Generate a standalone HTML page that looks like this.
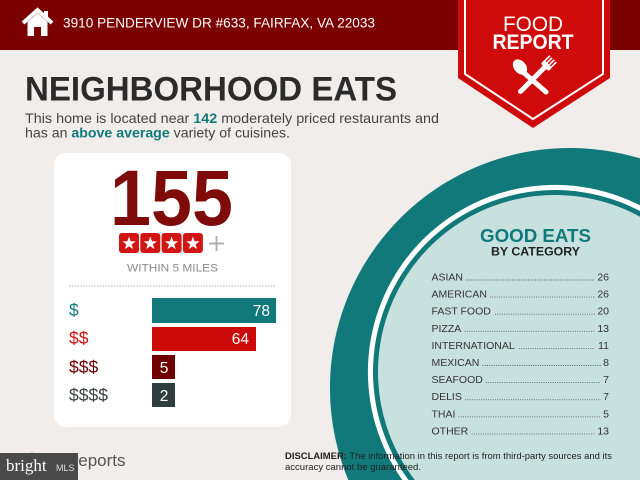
<!DOCTYPE html>
<html><head><meta charset="utf-8"><style>
html,body{margin:0;padding:0;width:640px;height:480px;overflow:hidden;background:#f0edea;}
svg{display:block;overflow:hidden;font-family:"Liberation Sans",Arial,sans-serif;}
</style></head><body>
<svg width="640" height="480" viewBox="0 0 640 480" xmlns="http://www.w3.org/2000/svg">
<rect x="0" y="0" width="640" height="480" fill="#f0edea"/>
<!-- circle (clipped to frame) -->
<path d="M348.3,480 A240,240 0 0,1 640,158.4 L640,480 Z" fill="#12797b"/>
<path d="M402.3,480 A187,187 0 0,1 640,205.4 L640,480 Z" fill="#ffffff"/>
<path d="M408.5,480 A182,182 0 0,1 640,211.1 L640,480 Z" fill="#12797b"/>
<path d="M414.8,480 A177,177 0 0,1 640,216.7 L640,480 Z" fill="#c7e1df"/>
<!-- header -->
<rect x="0" y="0" width="640" height="50" fill="#7b0000"/>
<path d="M23 23 L37.5 10 L52 23" stroke="#fff" stroke-width="4" fill="none"/>
<path d="M27.5 22 L37.5 13 L47.5 22 V36 H41 V27 H34 V36 H27.5 Z" fill="#fff"/>
<rect x="44" y="11" width="4" height="8" fill="#fff"/>
<text x="63" y="27.5" font-size="13.5" fill="#fff" textLength="312" lengthAdjust="spacingAndGlyphs">3910 PENDERVIEW DR #633, FAIRFAX, VA 22033</text>
<!-- banner -->
<polygon points="458,0 610,0 610,78 533,128 458,78" fill="#cf0a0a"/>
<polyline points="465,0 465,74 533,119 603,74 603,0" fill="none" stroke="#fff" stroke-width="2"/>
<text x="533" y="31" font-size="21" fill="#fff" text-anchor="middle" textLength="60" lengthAdjust="spacingAndGlyphs">FOOD</text>
<text x="533" y="49" font-size="21" font-weight="bold" fill="#fff" text-anchor="middle" textLength="81" lengthAdjust="spacingAndGlyphs">REPORT</text>
<!-- spoon -->
<ellipse cx="520" cy="67" rx="6" ry="8.5" fill="#fff" transform="rotate(-40 520 67)"/>
<line x1="523" y1="72" x2="546" y2="92" stroke="#fff" stroke-width="5" stroke-linecap="round"/>
<!-- fork -->
<g transform="translate(546,66) rotate(45)">
<line x1="0" y1="2" x2="0" y2="36" stroke="#fff" stroke-width="5" stroke-linecap="round"/>
<rect x="-5.5" y="-3" width="11" height="5" rx="2" fill="#fff"/>
<line x1="-4.5" y1="-10" x2="-4.5" y2="0" stroke="#fff" stroke-width="1.6"/>
<line x1="-1.5" y1="-10" x2="-1.5" y2="0" stroke="#fff" stroke-width="1.6"/>
<line x1="1.5" y1="-10" x2="1.5" y2="0" stroke="#fff" stroke-width="1.6"/>
<line x1="4.5" y1="-10" x2="4.5" y2="0" stroke="#fff" stroke-width="1.6"/>
</g>
<!-- heading -->
<text x="25" y="100.5" font-size="34" font-weight="bold" fill="#2b2b2b" textLength="372" lengthAdjust="spacingAndGlyphs">NEIGHBORHOOD EATS</text>
<text x="25" y="123" font-size="14" fill="#444" textLength="414" lengthAdjust="spacingAndGlyphs">This home is located near <tspan font-weight="bold" fill="#12797b">142</tspan> moderately priced restaurants and</text>
<text x="25" y="137.5" font-size="14" fill="#444" textLength="265" lengthAdjust="spacingAndGlyphs">has an <tspan font-weight="bold" fill="#12797b">above average</tspan> variety of cuisines.</text>
<!-- card -->
<rect x="54" y="153" width="237" height="274" rx="12" fill="#ffffff"/>
<text x="171.5" y="225" font-size="79" font-weight="bold" fill="#7f0a0a" text-anchor="middle" textLength="123" lengthAdjust="spacingAndGlyphs">155</text>
<g fill="#d11414">
<rect x="119" y="233" width="20" height="20" rx="3"/>
<rect x="140.3" y="233" width="20" height="20" rx="3"/>
<rect x="161.6" y="233" width="20" height="20" rx="3"/>
<rect x="182.9" y="233" width="20" height="20" rx="3"/>
</g>
<g fill="#fff">
<path transform="translate(129,243.5)" d="M0,-7 L1.65,-2.27 L6.66,-2.16 L2.66,0.87 L4.11,5.66 L0,2.8 L-4.11,5.66 L-2.66,0.87 L-6.66,-2.16 L-1.65,-2.27 Z"/>
<path transform="translate(150.3,243.5)" d="M0,-7 L1.65,-2.27 L6.66,-2.16 L2.66,0.87 L4.11,5.66 L0,2.8 L-4.11,5.66 L-2.66,0.87 L-6.66,-2.16 L-1.65,-2.27 Z"/>
<path transform="translate(171.6,243.5)" d="M0,-7 L1.65,-2.27 L6.66,-2.16 L2.66,0.87 L4.11,5.66 L0,2.8 L-4.11,5.66 L-2.66,0.87 L-6.66,-2.16 L-1.65,-2.27 Z"/>
<path transform="translate(192.9,243.5)" d="M0,-7 L1.65,-2.27 L6.66,-2.16 L2.66,0.87 L4.11,5.66 L0,2.8 L-4.11,5.66 L-2.66,0.87 L-6.66,-2.16 L-1.65,-2.27 Z"/>
</g>
<line x1="209" y1="243.5" x2="224" y2="243.5" stroke="#aaa" stroke-width="1.8"/>
<line x1="216.5" y1="236" x2="216.5" y2="251" stroke="#aaa" stroke-width="1.8"/>
<text x="172.5" y="271.5" font-size="11" fill="#8a8a8a" text-anchor="middle" textLength="91" lengthAdjust="spacingAndGlyphs">WITHIN 5 MILES</text>
<line x1="69" y1="286" x2="276" y2="286" stroke="#999" stroke-width="0.8" stroke-dasharray="1.6 1.2"/>
<!-- bars -->
<text x="69" y="316" font-size="17.5" fill="#12797b">$</text>
<rect x="152" y="298" width="124" height="25" fill="#12797b"/>
<text x="270" y="316" font-size="15.5" fill="#fff" text-anchor="end">78</text>
<text x="69" y="344" font-size="17.5" fill="#d01010">$$</text>
<rect x="152" y="327" width="104" height="24" fill="#cc0a0a"/>
<text x="249" y="344" font-size="15.5" fill="#fff" text-anchor="end">64</text>
<text x="69" y="373" font-size="17.5" fill="#6e0000">$$$</text>
<rect x="152" y="355" width="23" height="24" fill="#6e0000"/>
<text x="164" y="373" font-size="15.5" fill="#fff" text-anchor="middle">5</text>
<text x="69" y="401" font-size="17.5" fill="#3c4444">$$$$</text>
<rect x="152" y="383" width="23" height="24" fill="#2f3d3d"/>
<text x="164" y="401" font-size="15.5" fill="#fff" text-anchor="middle">2</text>
<!-- good eats -->
<text x="535.5" y="242" font-size="18" font-weight="bold" fill="#12797b" text-anchor="middle" textLength="111" lengthAdjust="spacingAndGlyphs">GOOD EATS</text>
<text x="535.5" y="255.5" font-size="12" font-weight="bold" fill="#222" text-anchor="middle" textLength="89" lengthAdjust="spacingAndGlyphs">BY CATEGORY</text>
<g font-size="10.5" fill="#333">
<text x="431.5" y="280.5">ASIAN</text><text x="609" y="280.5" text-anchor="end">26</text>
<text x="431.5" y="297.6">AMERICAN</text><text x="609" y="297.6" text-anchor="end">26</text>
<text x="431.5" y="314.7">FAST FOOD</text><text x="609" y="314.7" text-anchor="end">20</text>
<text x="431.5" y="331.8">PIZZA</text><text x="609" y="331.8" text-anchor="end">13</text>
<text x="431.5" y="348.9">INTERNATIONAL</text><text x="609" y="348.9" text-anchor="end">11</text>
<text x="431.5" y="366">MEXICAN</text><text x="609" y="366" text-anchor="end">8</text>
<text x="431.5" y="383.1">SEAFOOD</text><text x="609" y="383.1" text-anchor="end">7</text>
<text x="431.5" y="400.2">DELIS</text><text x="609" y="400.2" text-anchor="end">7</text>
<text x="431.5" y="417.3">THAI</text><text x="609" y="417.3" text-anchor="end">5</text>
<text x="431.5" y="434.4">OTHER</text><text x="609" y="434.4" text-anchor="end">13</text>
</g>
<g stroke="#555" stroke-width="0.9" stroke-dasharray="0.9 1.4">
<line x1="466" y1="280" x2="595" y2="280"/>
<line x1="490" y1="297.1" x2="595" y2="297.1"/>
<line x1="495" y1="314.2" x2="595" y2="314.2"/>
<line x1="464.5" y1="331.3" x2="595" y2="331.3"/>
<line x1="519" y1="348.4" x2="595" y2="348.4"/>
<line x1="482.5" y1="365.5" x2="601" y2="365.5"/>
<line x1="486" y1="382.6" x2="601" y2="382.6"/>
<line x1="465" y1="399.7" x2="601" y2="399.7"/>
<line x1="458.5" y1="416.8" x2="601" y2="416.8"/>
<line x1="471.5" y1="433.9" x2="595" y2="433.9"/>
</g>
<!-- footer -->
<text x="66" y="466" font-size="17" fill="#555">Reports</text>
<circle cx="32" cy="454" r="1.5" fill="#3ab0c0"/>
<rect x="0" y="453" width="78" height="27" fill="#4a4a4a"/>
<text x="6" y="471" font-size="17" fill="#fff" font-family="Liberation Serif, serif">bright</text>
<text x="56" y="471" font-size="9" fill="#ddd">MLS</text>
<text x="285" y="459" font-size="9.5" fill="#222" textLength="327" lengthAdjust="spacingAndGlyphs"><tspan font-weight="bold">DISCLAIMER:</tspan> The information in this report is from third-party sources and its</text>
<text x="285" y="470" font-size="9.5" fill="#222" textLength="136" lengthAdjust="spacingAndGlyphs">accuracy cannot be guaranteed.</text>
</svg>
</body></html>
